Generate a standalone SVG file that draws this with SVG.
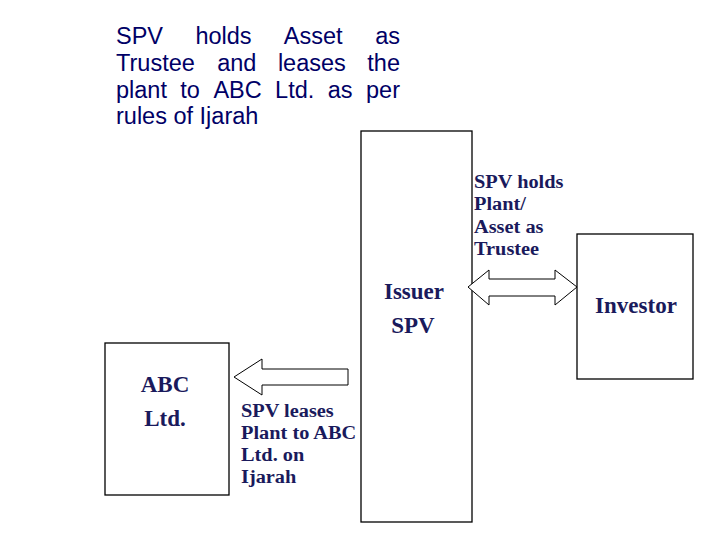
<svg xmlns="http://www.w3.org/2000/svg" width="720" height="540" viewBox="0 0 720 540">
<style>
.box{fill:#fff;stroke:#000;stroke-width:1.3}
.arr{fill:#fff;stroke:#000;stroke-width:1}
.top{font-family:"Liberation Sans",Arial,sans-serif;font-size:23.5px;fill:#000066}
.lbl{font-family:"Liberation Serif","Times New Roman",serif;font-size:18px;font-weight:bold;fill:#1a1a5c}
.big{font-family:"Liberation Serif","Times New Roman",serif;font-size:23px;font-weight:bold;fill:#1a1a5c}
</style>
<rect width="720" height="540" fill="#fff"/>
<g id="caption" class="top">
<text x="116" y="44">SPV</text><text x="195.4" y="44">holds</text><text x="283.8" y="44">Asset</text><text x="400" y="44" text-anchor="end">as</text>
<text x="116" y="71">Trustee</text><text x="217.2" y="71">and</text><text x="277.9" y="71">leases</text><text x="400" y="71" text-anchor="end">the</text>
<text x="116" y="98">plant</text><text x="180.3" y="98">to</text><text x="213.4" y="98">ABC</text><text x="275.1" y="98">Ltd.</text><text x="327.7" y="98">as</text><text x="400" y="98" text-anchor="end">per</text>
<text x="116" y="124">rules of Ijarah</text>
</g>
<g id="issuer">
<rect class="box" x="361" y="131" width="111" height="391"/>
<text class="big" x="414" y="299" text-anchor="middle">Issuer</text>
<text class="big" x="413" y="333" text-anchor="middle">SPV</text>
</g>
<g id="investor">
<rect class="box" x="577" y="234" width="116" height="145"/>
<text class="big" x="636" y="313" text-anchor="middle">Investor</text>
</g>
<g id="abc">
<rect class="box" x="105" y="343" width="124" height="152"/>
<text class="big" x="165" y="392" text-anchor="middle">ABC</text>
<text class="big" x="165" y="426" text-anchor="middle">Ltd.</text>
</g>
<g id="connectors">
<polygon class="arr" points="468,287 489,270 489,279 555,279 555,270 577,287 555,305 555,296 489,296 489,305"/>
<polygon class="arr" points="234,377 262,359 262,369 348,369 348,385 262,385 262,395"/>
</g>
<g id="labels" class="lbl" transform="scale(1.13 1)">
<text x="419.5" y="188">SPV holds</text>
<text x="419.5" y="210">Plant/</text>
<text x="419.5" y="233">Asset as</text>
<text x="419.5" y="255">Trustee</text>
<text x="213.3" y="417">SPV leases</text>
<text x="213.3" y="439">Plant to ABC</text>
<text x="213.3" y="461">Ltd. on</text>
<text x="213.3" y="483">Ijarah</text>
</g>
</svg>
